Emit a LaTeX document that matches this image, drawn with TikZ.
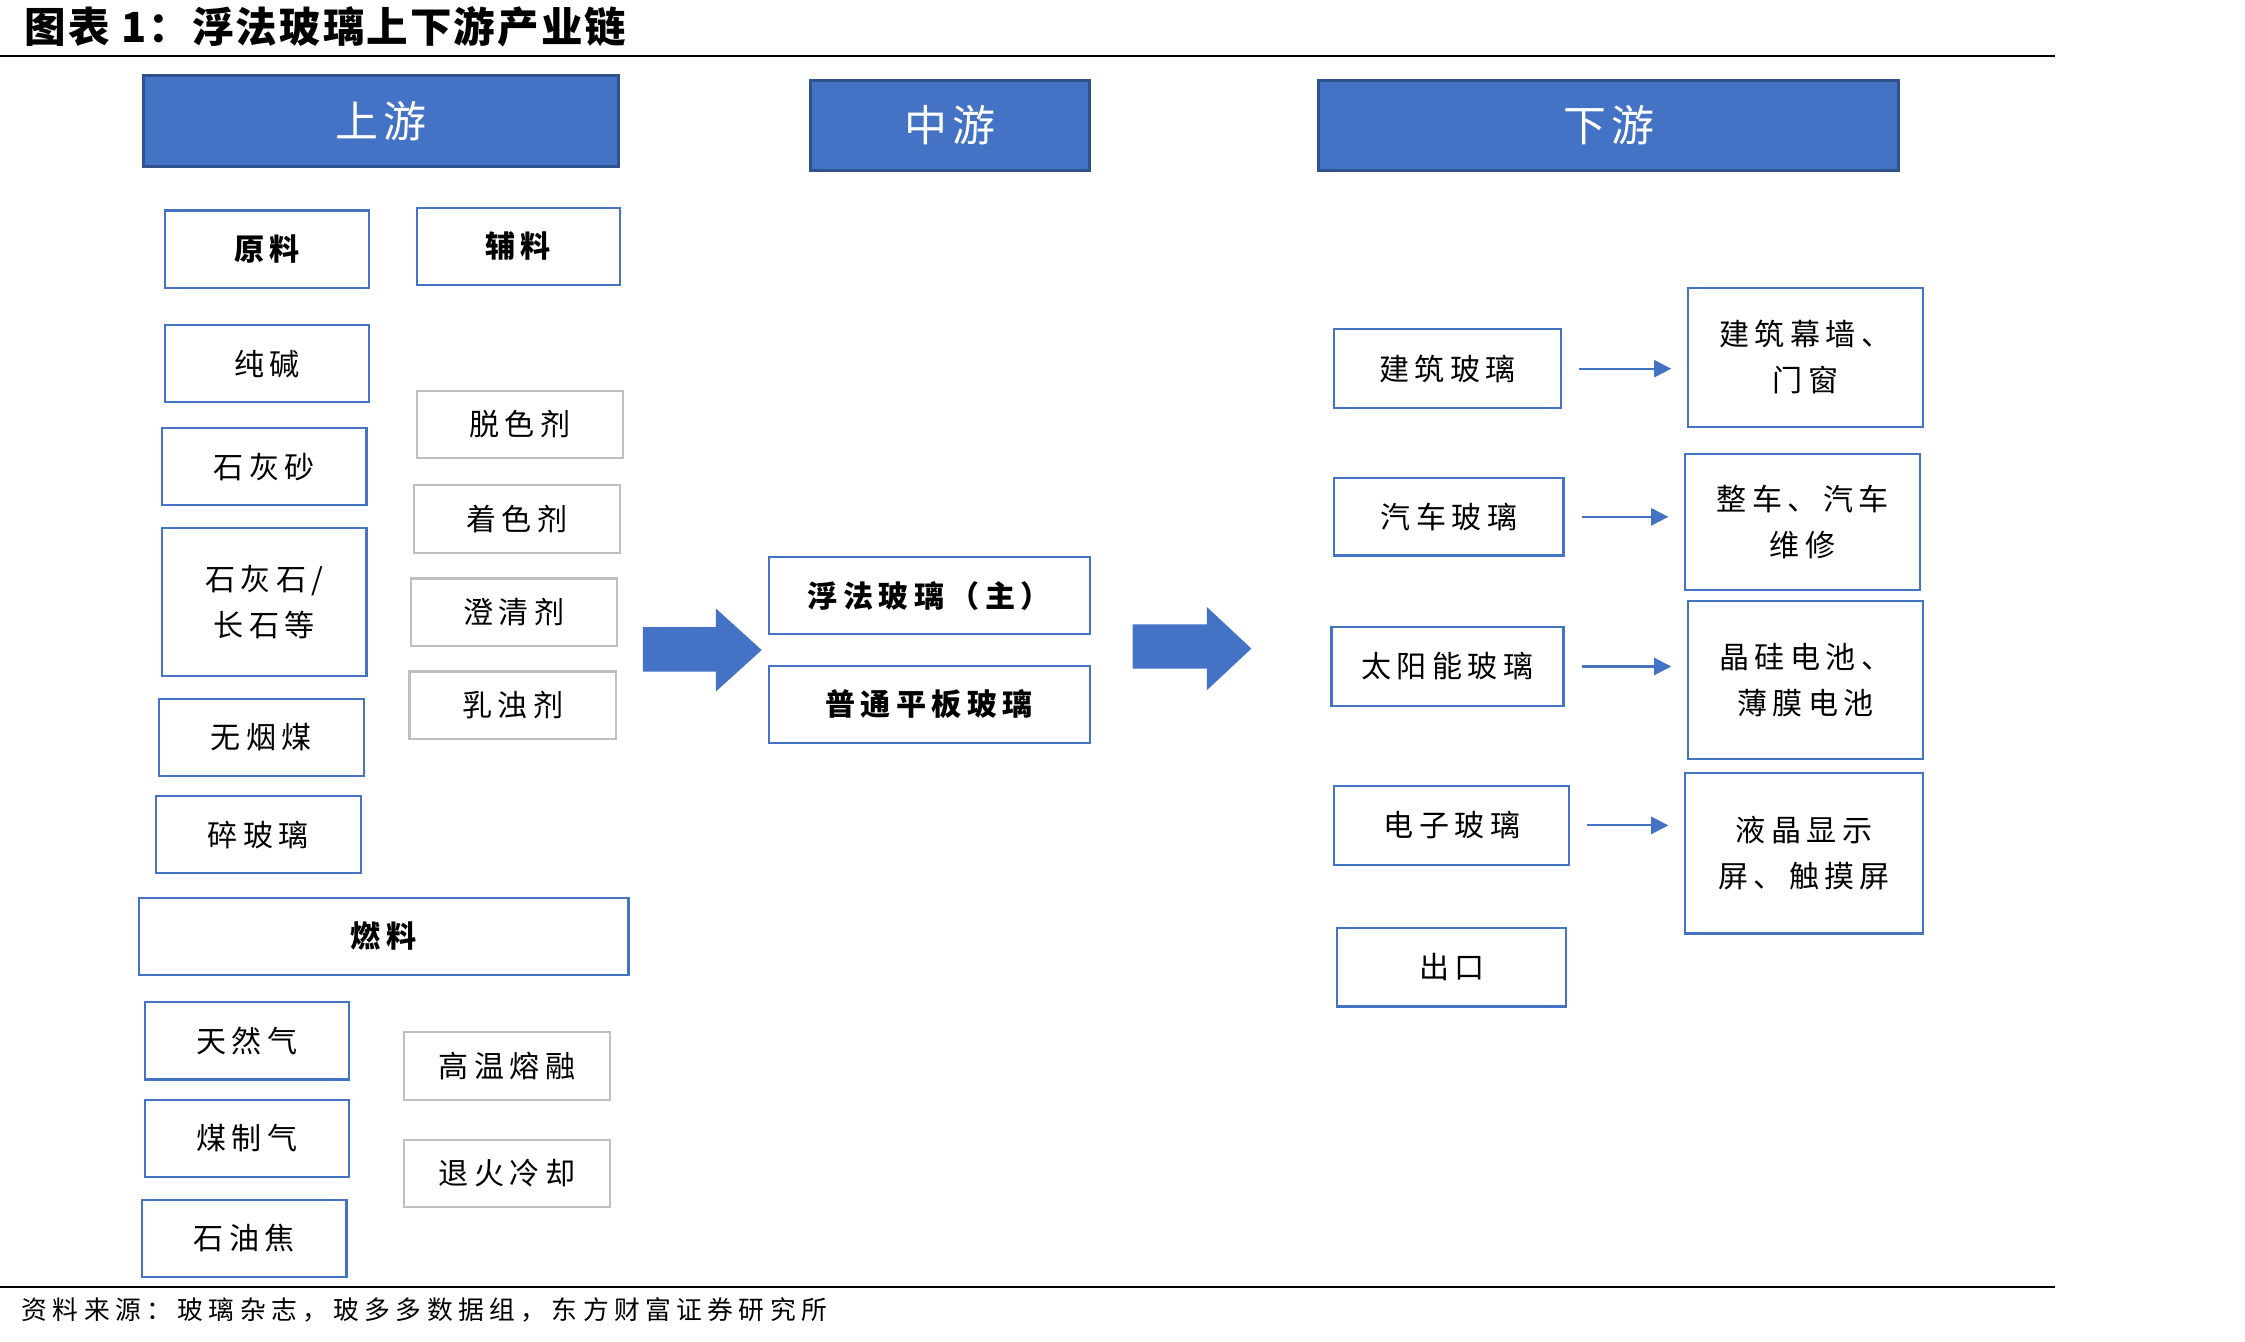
\documentclass[tikz,border=0pt]{standalone}
\usepackage{fontspec}
\setmainfont{Noto Sans CJK SC}
\newfontfamily\boxfont{Noto Sans CJK SC}[LetterSpace=18]
\newfontfamily\headfont{Noto Sans CJK SC}[LetterSpace=12]
\newfontfamily\srcfont{Noto Sans CJK SC}[LetterSpace=21]
\newfontfamily\titlefont{Noto Sans CJK SC}[LetterSpace=5]
\usetikzlibrary{arrows.meta}
\definecolor{blueA}{HTML}{4472C4}
\definecolor{blueD}{HTML}{2F528F}
\definecolor{grayB}{HTML}{BFBFBF}
\tikzset{
  bx/.style={draw=blueA, line width=1.5pt, fill=white, inner sep=0pt, align=center,
    font=\boxfont\fontsize{21}{32}\selectfont},
  gbx/.style={bx, draw=grayB},
  hdr/.style={draw=blueD, line width=2pt, fill=blueA, inner sep=0pt, text=white,
    font=\headfont\fontsize{30}{30}\selectfont},
  sarr/.style={draw=blueA, line width=1.5pt, -{Triangle[length=12pt,width=12pt]},
    shorten <=12pt, shorten >=11pt},
  bigarr/.style={fill=blueA, draw=none}
}
\begin{document}
\begin{tikzpicture}[x=1pt,y=-1pt]
\useasboundingbox (0,0) rectangle (1568,937);
\fill[white] (0,0) rectangle (1568,937);
% title and rules
\node[anchor=west, inner sep=0pt, font=\titlefont\bfseries\fontsize{29}{29}\selectfont] (title) at (17,19) {图表 1：浮法玻璃上下游产业链};
\coordinate (r1a) at (0,39); \coordinate (r1b) at (1435,39);
\coordinate (r2a) at (0,899); \coordinate (r2b) at (1435,899);
\draw[line width=1.5pt] (r1a) -- (r1b);
\draw[line width=1.5pt] (r2a) -- (r2b);
\node[anchor=west, inner sep=0pt, font=\srcfont\fontsize{18}{18}\selectfont] (src) at (15,915) {资料来源：玻璃杂志，玻多多数据组，东方财富证券研究所};
% headers
\node[hdr, minimum width=332pt, minimum height=63pt] (hu) at (266,84.5) {上游};
\node[hdr, minimum width=195pt, minimum height=63pt] (hm) at (663.5,87.5) {中游};
\node[hdr, minimum width=405pt, minimum height=63pt] (hd) at (1123.5,87.5) {下游};
% upstream
\node[bx, minimum width=143pt, minimum height=54pt, font=\boxfont\bfseries\fontsize{21}{32}\selectfont] (yl) at (186.5,174) {原料};
\node[bx, minimum width=142pt, minimum height=54pt, font=\boxfont\bfseries\fontsize{21}{32}\selectfont] (fl) at (362,172) {辅料};
\node[bx, minimum width=143pt, minimum height=54pt] (cj) at (186.5,254) {纯碱};
\node[bx, minimum width=143pt, minimum height=54pt] (shs) at (184.5,326) {石灰砂};
\node[bx, minimum width=143pt, minimum height=103pt] (shsh) at (184.5,420.5) {石灰石/\\长石等};
\node[bx, minimum width=143pt, minimum height=54pt] (wym) at (182.5,515) {无烟煤};
\node[bx, minimum width=143pt, minimum height=54pt] (sbl) at (180.5,583) {碎玻璃};
\node[bx, minimum width=342pt, minimum height=54pt, font=\boxfont\bfseries\fontsize{21}{32}\selectfont] (rl) at (268,654) {燃料};
\node[bx, minimum width=143pt, minimum height=54pt] (trq) at (172.5,727) {天然气};
\node[bx, minimum width=143pt, minimum height=54pt] (mzq) at (172.5,795) {煤制气};
\node[bx, minimum width=143pt, minimum height=54pt] (syj) at (170.5,865) {石油焦};
% auxiliary (gray)
\node[gbx, minimum width=144pt, minimum height=47pt] (tsj) at (363,296.5) {脱色剂};
\node[gbx, minimum width=144pt, minimum height=47pt] (zsj) at (361,362.5) {着色剂};
\node[gbx, minimum width=144pt, minimum height=47pt] (cqj) at (359,427.5) {澄清剂};
\node[gbx, minimum width=144pt, minimum height=47pt] (rzj) at (358,492.5) {乳浊剂};
\node[gbx, minimum width=144pt, minimum height=47pt] (gwrr) at (354,744.5) {高温熔融};
\node[gbx, minimum width=144pt, minimum height=47pt] (thlq) at (354,819.5) {退火冷却};
% big arrows
\fill[bigarr] (449,438) -- (500,438) -- (500,425) -- (532,454) -- (500,483) -- (500,469) -- (449,469) -- cycle;
\fill[bigarr] (791,436) -- (843,436) -- (843,424) -- (874,453) -- (843,482) -- (843,467) -- (791,467) -- cycle;
% midstream
\node[bx, minimum width=224pt, minimum height=54pt, font=\boxfont\bfseries\fontsize{21}{32}\selectfont] (ff) at (649,416) {浮法玻璃（主）};
\node[bx, minimum width=224pt, minimum height=54pt, font=\boxfont\bfseries\fontsize{21}{32}\selectfont] (pt) at (649,492) {普通平板玻璃};
% downstream left
\node[bx, minimum width=158pt, minimum height=55pt] (jz) at (1011,257.5) {建筑玻璃};
\node[bx, minimum width=160pt, minimum height=54pt] (qc) at (1012,361) {汽车玻璃};
\node[bx, minimum width=162pt, minimum height=55pt] (ty) at (1011,465.5) {太阳能玻璃};
\node[bx, minimum width=164pt, minimum height=55pt] (dz) at (1014,576.5) {电子玻璃};
\node[bx, minimum width=160pt, minimum height=55pt] (ck) at (1014,675.5) {出口};
% downstream right
\node[bx, minimum width=164pt, minimum height=97pt] (mq) at (1261,249.5) {建筑幕墙、\\门窗};
\node[bx, minimum width=164pt, minimum height=95pt] (zc) at (1259,364.5) {整车、汽车\\维修};
\node[bx, minimum width=164pt, minimum height=110pt] (jg) at (1261,475) {晶硅电池、\\薄膜电池};
\node[bx, minimum width=166pt, minimum height=112pt] (yj) at (1260,596) {液晶显示\\屏、触摸屏};
% small arrows
\draw[sarr] (jz.east) -- (jz.east -| mq.west);
\draw[sarr] (qc.east) -- (qc.east -| zc.west);
\draw[sarr] (ty.east) -- (ty.east -| jg.west);
\draw[sarr] (dz.east) -- (dz.east -| yj.west);
\end{tikzpicture}
\end{document}
